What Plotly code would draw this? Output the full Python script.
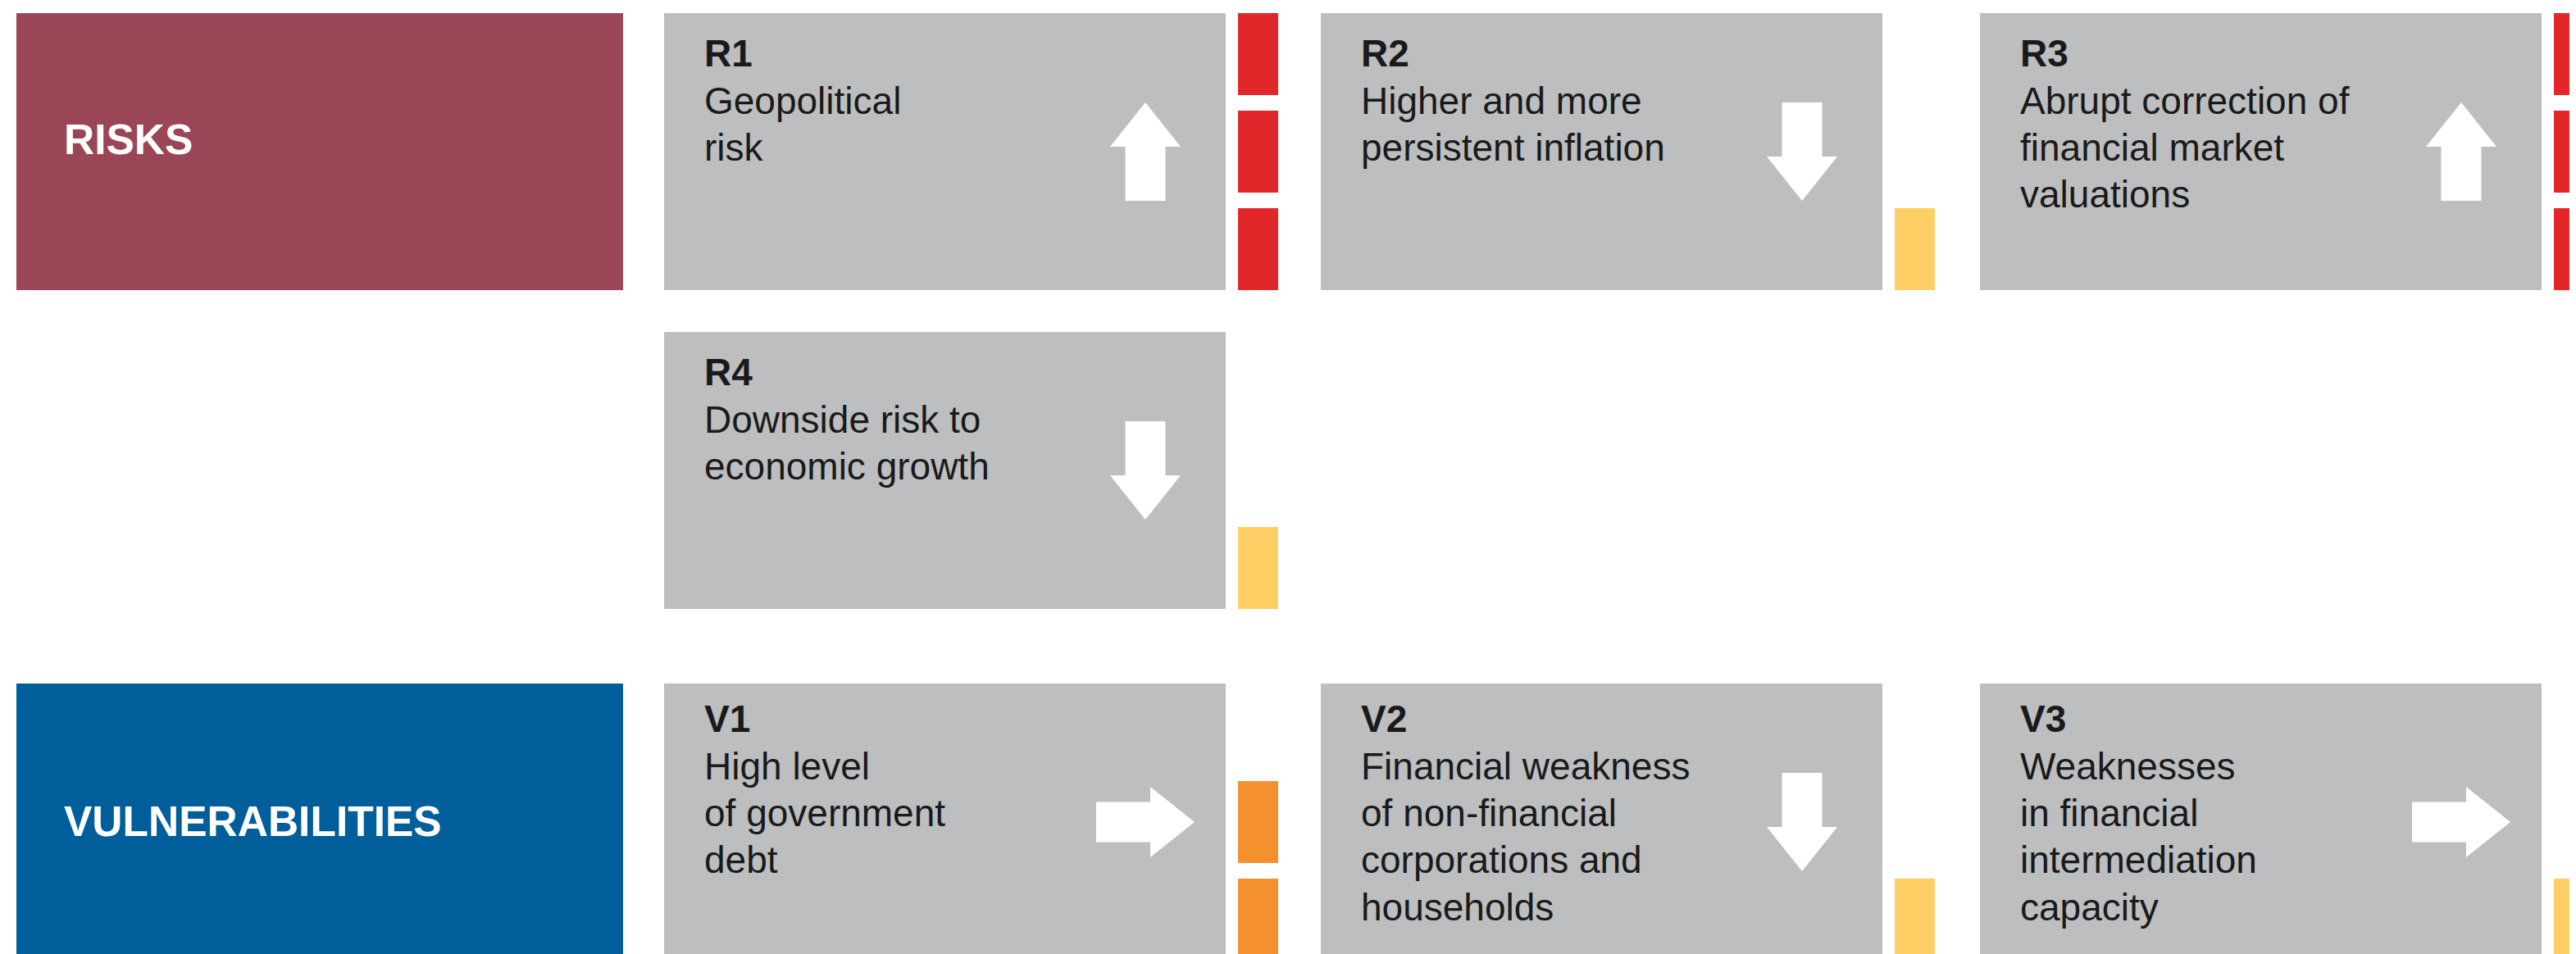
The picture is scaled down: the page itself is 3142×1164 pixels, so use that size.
import plotly.graph_objects as go

# ---------------- data ----------------
codes = ["R1", "R2", "R3", "R4", "V1", "V2", "V3"]
descriptions = [
    ["Geopolitical", "risk"],
    ["Higher and more", "persistent inflation"],
    ["Abrupt correction of", "financial market", "valuations"],
    ["Downside risk to", "economic growth"],
    ["High level", "of government", "debt"],
    ["Financial weakness", "of non-financial", "corporations and", "households"],
    ["Weaknesses", "in financial", "intermediation", "capacity"],
]
trends = ["up", "down", "up", "down", "right", "down", "right"]
levels = [3, 1, 3, 1, 2, 1, 1]          # number of filled intensity segments
grid_rows = [0, 0, 0, 1, 2, 2, 2]
grid_cols = [0, 1, 2, 0, 0, 1, 2]
header_labels = ["RISKS", "VULNERABILITIES"]
header_rows = [0, 2]

# ---------------- layout / style ----------------
W, H = 3142, 1164
PAGE_OFF = 8                     # browser body margin
ROW_TOP = [16, 405, 834]
ROW_BASELINE_DY = [65, 65, 59]   # first text baseline below card top
LINE_PITCH = 57.3
CARD_H = 338
COL_X = [810, 1611, 2415]
CARD_W = 685
HEADER_X0, HEADER_X1 = 20, 760
HEADER_TEXT_DY = [154, 168]
BAR_DX, BAR_W = 700, 49
SEG_H, SEG_GAP = 100, 19
ARROW_DX, ARROW_DY = 587, 169
ARROW_L, ARROW_HL, ARROW_HW, ARROW_SW = 120, 54, 86, 49

HEADER_COLORS = ["#9B4656", "#005E9A"]
CARD_COLOR = "#BDBEC0"
LEVEL_COLORS = {1: "#FFCE65", 2: "#F5902F", 3: "#E1272A"}
FONT = "Liberation Sans, Arial, Helvetica, sans-serif"
TEXT_COLOR = "#1A1A1A"
TXT_SIZE = 46
ASCENT_OFF = 2 + 0.905 * TXT_SIZE   # annotation top -> baseline

fig = go.Figure()
shapes = []
annotations = []

# headers
for lab, r, col, dy in zip(header_labels, header_rows, HEADER_COLORS, HEADER_TEXT_DY):
    y0 = ROW_TOP[r]
    shapes.append(dict(type="rect", xref="x", yref="y", x0=HEADER_X0, x1=HEADER_X1,
                       y0=y0, y1=y0 + CARD_H, fillcolor=col, line=dict(width=0), layer="below"))
    annotations.append(dict(xref="x", yref="y", x=HEADER_X0 + 56, y=y0 + dy, text="<b>%s</b>" % lab,
                            showarrow=False, xanchor="left", yanchor="middle", align="left",
                            font=dict(family=FONT, size=51.5, color="white")))

DIRS = {"up": (0, -1), "down": (0, 1), "right": (1, 0)}

for code, desc, tr, lvl, r, c in zip(codes, descriptions, trends, levels, grid_rows, grid_cols):
    x0 = COL_X[c]
    y0 = ROW_TOP[r]
    # card
    shapes.append(dict(type="rect", xref="x", yref="y", x0=x0, x1=x0 + CARD_W,
                       y0=y0, y1=y0 + CARD_H, fillcolor=CARD_COLOR, line=dict(width=0), layer="below"))
    # intensity segments (filled from the bottom)
    for k in range(lvl):
        sy1 = y0 + CARD_H - k * (SEG_H + SEG_GAP)
        shapes.append(dict(type="rect", xref="x", yref="y", x0=x0 + BAR_DX, x1=x0 + BAR_DX + BAR_W,
                           y0=sy1 - SEG_H, y1=sy1, fillcolor=LEVEL_COLORS[lvl],
                           line=dict(width=0), layer="below"))
    # arrow
    cx, cy = x0 + ARROW_DX, y0 + ARROW_DY
    dx, dy = DIRS[tr]
    px, py = -dy, dx
    pts_ab = [
        (ARROW_L / 2, 0),
        (ARROW_L / 2 - ARROW_HL, ARROW_HW / 2),
        (ARROW_L / 2 - ARROW_HL, ARROW_SW / 2),
        (-ARROW_L / 2, ARROW_SW / 2),
        (-ARROW_L / 2, -ARROW_SW / 2),
        (ARROW_L / 2 - ARROW_HL, -ARROW_SW / 2),
        (ARROW_L / 2 - ARROW_HL, -ARROW_HW / 2),
    ]
    pts = [(cx + a * dx + b * px, cy + a * dy + b * py) for a, b in pts_ab]
    path = "M " + " L ".join("%.1f,%.1f" % p for p in pts) + " Z"
    shapes.append(dict(type="path", xref="x", yref="y", path=path, fillcolor="white",
                       line=dict(width=0), layer="above"))
    # text, one annotation per line
    lines = ["<b>%s</b>" % code] + list(desc)
    for i, ln in enumerate(lines):
        base = y0 + ROW_BASELINE_DY[r] + i * LINE_PITCH
        annotations.append(dict(xref="x", yref="y", x=x0 + 47, y=base - ASCENT_OFF, text=ln,
                                showarrow=False, xanchor="left", yanchor="top", align="left",
                                font=dict(family=FONT, size=TXT_SIZE, color=TEXT_COLOR)))

# invisible trace to anchor axes
fig.add_trace(go.Scatter(x=[PAGE_OFF, W], y=[PAGE_OFF, H], mode="markers", marker=dict(opacity=0),
                         hoverinfo="skip", showlegend=False))

fig.update_layout(
    width=W, height=H, margin=dict(l=0, r=0, t=0, b=0),
    paper_bgcolor="white", plot_bgcolor="white",
    xaxis=dict(range=[PAGE_OFF, W + PAGE_OFF], visible=False, fixedrange=True),
    yaxis=dict(range=[H + PAGE_OFF, PAGE_OFF], visible=False, fixedrange=True),
    shapes=shapes, annotations=annotations, showlegend=False,
)

fig.write_html("out.html", config={"displayModeBar": False})
